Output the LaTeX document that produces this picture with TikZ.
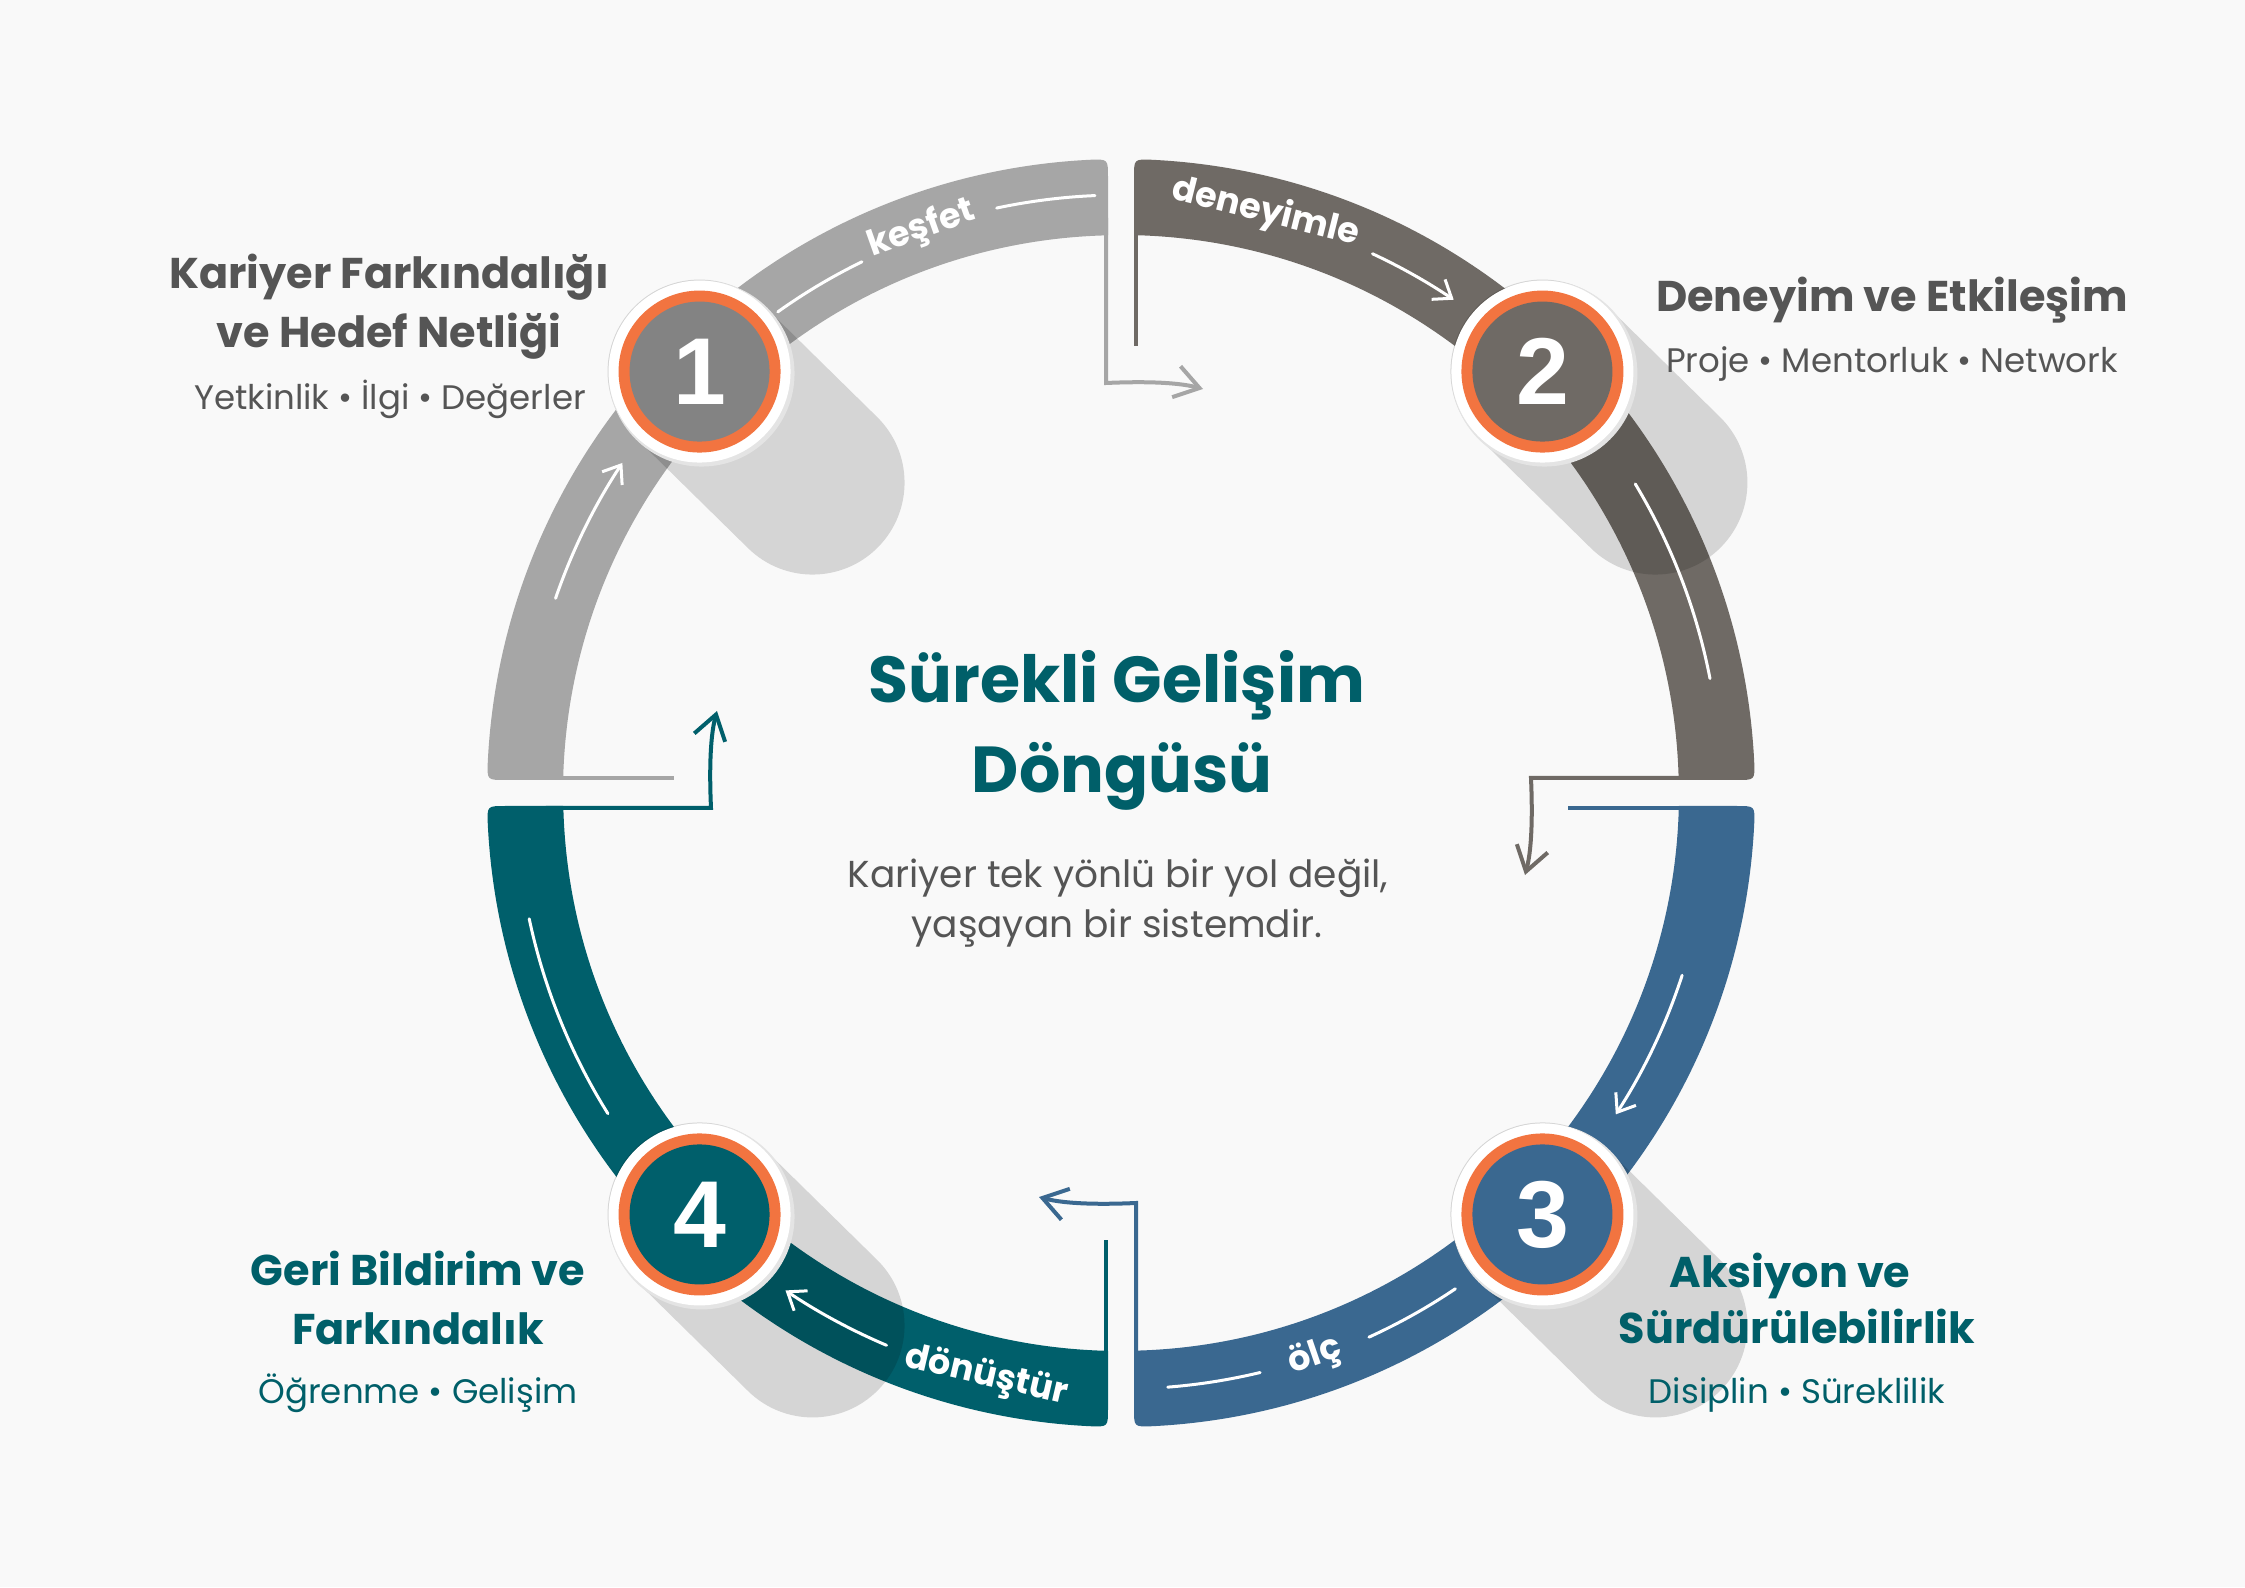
\documentclass[tikz,border=0pt]{standalone}
\usepackage{fontspec}
\setmainfont{Poppins}
\newfontfamily\numfont{Liberation Sans}
\usetikzlibrary{arrows.meta}

\definecolor{bg}{HTML}{F9F9F9}
\definecolor{qone}{HTML}{A6A6A6}
\definecolor{qonedark}{HTML}{838383}
\definecolor{qtwo}{HTML}{6F6A65}
\definecolor{qthree}{HTML}{3A6890}
\definecolor{qfour}{HTML}{005F6B}
\definecolor{ringorange}{HTML}{F27440}
\definecolor{ink}{HTML}{555555}
\definecolor{tealtxt}{HTML}{005F69}
\definecolor{rim}{HTML}{E4E4E4}

\tikzset{
  link/.style={line width=4pt, -{Straight Barb[length=24pt,width=32pt]}},
  stub/.style={line width=4pt},
  hand/.style={white, line width=3pt, line cap=round},
  handarrow/.style={hand, -{Straight Barb[length=16pt,width=24pt]}},
  head/.style={font=\fontsize{43}{50}\selectfont\bfseries, anchor=base, inner sep=0pt},
  sub/.style={font=\fontsize{34}{40}\selectfont, anchor=base, inner sep=0pt},
  title/.style={font=\fontsize{65}{70}\selectfont\bfseries, text=tealtxt, anchor=base, inner sep=0pt},
  lead/.style={font=\fontsize{37.5}{44}\selectfont, text=ink, anchor=base, inner sep=0pt},
  num/.style={font=\numfont\fontsize{95}{95}\selectfont\bfseries, text=white, inner sep=0pt},
  bandtext/.style={font=\fontsize{35}{35}\selectfont\bfseries, text=white, inner sep=0pt, rotate=#1},
}

\begin{document}
\begin{tikzpicture}[x=1pt,y=1pt]
  \useasboundingbox (-1121,-794) rectangle (1124,793);
  \fill[bg] (-1121,-794) rectangle (1124,793);

  % ring pieces and their connectors
  \foreach \k/\c in {0/qone,1/qtwo,2/qthree,3/qfour} {
    \begin{scope}[rotate=-90*\k]
      \fill[\c] (-13,557.85) -- (-13,616) .. controls (-13,633.87) .. (92.8:634)
        arc[start angle=92.8, end angle=177.2, radius=634]
        .. controls (-633.87,13) .. (-616,13) -- (-557.85,13)
        arc[start angle=178.665, end angle=91.335, radius=557.85] -- cycle;
      \draw[link, \c] (-15,575) -- (-15,410) .. controls (30,412) and (60,410) .. (82,404);
      \draw[stub, \c] (-575,15) -- (-447,15);
    \end{scope}
  }

  % shadows
  \foreach \a in {135,45,-45,-135}
    \draw[black, opacity=.14, line width=184pt, line cap=round] (\a:596) -- ++(113,-111);

  % hand drawn marks in the bands
  \node[bandtext=19.5] (w1) at (109.5:598) {keşfet};
  \draw[hand] (125.5:591) arc[start angle=125.5, end angle=116, radius=591];
  \draw[hand] (102:598) arc[start angle=102, end angle=92.5, radius=598];
  \draw[handarrow] (161:598) arc[start angle=161, end angle=146.5, radius=598];

  \node[bandtext=-14] (w2) at (76:598) {deneyimle};
  \draw[handarrow] (65:595) arc[start angle=65, end angle=56, radius=595];
  \draw[hand] (31:600) arc[start angle=31, end angle=11, radius=600];

  \draw[handarrow] (-18:590) arc[start angle=-18, end angle=-33, radius=590];
  \draw[hand] (-85.5:596) arc[start angle=-85.5, end angle=-76.5, radius=596];
  \node[bandtext=19] (w3) at (-71:596) {ölç};
  \draw[hand] (-65.5:598) arc[start angle=-65.5, end angle=-56, radius=598];

  \draw[handarrow] (-113:600) arc[start angle=-113, end angle=-124, radius=600];
  \node[bandtext=-13] (w4) at (-103:599) {dönüştür};
  \draw[hand] (-168:605) arc[start angle=-168, end angle=-148, radius=605];

  % badges
  \foreach \a/\c/\n in {135/qonedark/1, 45/qtwo/2, -45/qthree/3, -135/qfour/4} {
    \fill[rim, shift={(\a:596)}] (2,-2) circle (93);
    \fill[white] (\a:596) circle (91);
    \fill[ringorange] (\a:596) circle (81);
    \fill[\c] (\a:596) circle (70);
    \node[num] (b\n) at (\a:596) {\n};
  }

  % texts
  \node[head, text=ink] (t1a) at (-732,504) {Kariyer Farkındalığı};
  \node[head, text=ink] (t1b) at (-732,445) {ve Hedef Netliği};
  \node[sub, text=ink] (t1c) at (-731,383) {Yetkinlik • İlgi • Değerler};

  \node[head, text=ink] (t2a) at (771,481) {Deneyim ve Etkileşim};
  \node[sub, text=ink] (t2b) at (771,420) {Proje • Mentorluk • Network};

  \node[head, text=tealtxt] (t3a) at (669,-494) {Aksiyon ve};
  \node[head, text=tealtxt] (t3b) at (676,-550) {Sürdürülebilirlik};
  \node[sub, text=tealtxt] (t3c) at (676,-610) {Disiplin • Süreklilik};

  \node[head, text=tealtxt] (t4a) at (-703,-492) {Geri Bildirim ve};
  \node[head, text=tealtxt] (t4b) at (-703,-551) {Farkındalık};
  \node[sub, text=tealtxt] (t4c) at (-703,-610) {Öğrenme • Gelişim};

  \node[title] (ttl1) at (-4,90) {Sürekli Gelişim};
  \node[title] (ttl2) at (1,0) {Döngüsü};
  \node[lead] (ld1) at (-3,-94) {Kariyer tek yönlü bir yol değil,};
  \node[lead] (ld2) at (-4,-144) {yaşayan bir sistemdir.};
\end{tikzpicture}
\end{document}
